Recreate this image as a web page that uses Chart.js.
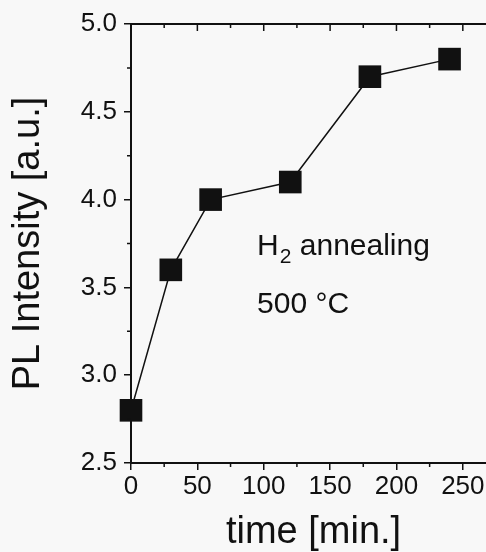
<!DOCTYPE html>
<html>
<head>
<meta charset="utf-8">
<script src="https://cdn.jsdelivr.net/npm/chart.js@4.4.1/dist/chart.umd.min.js"></script>
<style>
  html, body { margin: 0; padding: 0; background: #f8f8f8; overflow: hidden; }
  /* the original plot runs a little past the right edge of the picture */
  #wrap { width: 496px; height: 552px; position: relative; }
</style>
</head>
<body>
<div id="wrap"><canvas id="plChart"></canvas></div>
<script>
// PL intensity vs. H2 annealing time
const times = [0, 30, 60, 120, 180, 240];
const intensity = [2.8, 3.6, 4.0, 4.1, 4.7, 4.8];
const xTicks = [0, 50, 100, 150, 200, 250];
const xMinorTicks = [25, 75, 125, 175, 225];
const yTicks = [2.5, 3.0, 3.5, 4.0, 4.5, 5.0];
const yMinorTicks = [2.75, 3.25, 3.75, 4.25, 4.75];

const INK = "#111";
const FONT = "'Liberation Sans', Arial, Helvetica, sans-serif";

// minor ticks + top frame line with inward ticks
const framePlugin = {
  id: "frame",
  afterDraw(chart) {
    const { ctx, chartArea, scales } = chart;
    const x = scales.x, y = scales.y;
    ctx.save();
    ctx.strokeStyle = INK;
    ctx.lineWidth = 2;
    ctx.beginPath();
    ctx.moveTo(chartArea.left - 1, chartArea.top);
    ctx.lineTo(chartArea.right, chartArea.top);
    ctx.stroke();
    ctx.lineWidth = 1.5;
    ctx.beginPath();
    xTicks.forEach(v => {
      const px = x.getPixelForValue(v);
      ctx.moveTo(px, chartArea.top);
      ctx.lineTo(px, chartArea.top + 7);
    });
    xMinorTicks.forEach(v => {
      const px = x.getPixelForValue(v);
      ctx.moveTo(px, chartArea.top);
      ctx.lineTo(px, chartArea.top + 4);
      ctx.moveTo(px, chartArea.bottom);
      ctx.lineTo(px, chartArea.bottom + 4);
    });
    yMinorTicks.forEach(v => {
      const py = y.getPixelForValue(v);
      ctx.moveTo(chartArea.left, py);
      ctx.lineTo(chartArea.left - 4, py);
    });
    ctx.stroke();
    ctx.restore();
  }
};

// "H2 annealing / 500 °C" label
const notePlugin = {
  id: "note",
  afterDatasetsDraw(chart) {
    const { ctx, scales } = chart;
    const px = scales.x.getPixelForValue(95);
    const py1 = scales.y.getPixelForValue(3.685);
    const py2 = scales.y.getPixelForValue(3.355);
    ctx.save();
    ctx.fillStyle = INK;
    ctx.textBaseline = "alphabetic";
    ctx.textAlign = "left";
    ctx.font = "30px " + FONT;
    ctx.fillText("H", px, py1);
    let cx = px + ctx.measureText("H").width;
    ctx.font = "21px " + FONT;
    ctx.fillText("2", cx + 1, py1 + 8);
    cx += ctx.measureText("2").width + 1;
    ctx.font = "30px " + FONT;
    ctx.fillText(" annealing", cx, py1);
    ctx.fillText("500 \u00B0C", px, py2);
    ctx.restore();
  }
};

const noPad = s => { s.getPadding = () => ({ left: 0, top: 0, right: 0, bottom: 0 }); };

const ctx = document.getElementById("plChart").getContext("2d");
new Chart(ctx, {
  type: "line",
  data: {
    datasets: [{
      data: times.map((t, i) => ({ x: t, y: intensity[i] })),
      borderColor: INK,
      borderWidth: 1.5,
      backgroundColor: INK,
      pointStyle: "rect",
      pointRadius: 16,
      pointHoverRadius: 16,
      pointBorderWidth: 0,
      tension: 0,
      clip: false
    }]
  },
  options: {
    responsive: true,
    maintainAspectRatio: false,
    animation: false,
    layout: { autoPadding: false, padding: { top: 24, right: 0, left: 0, bottom: 0 } },
    plugins: { legend: { display: false }, tooltip: { enabled: false } },
    scales: {
      x: {
        type: "linear",
        min: 0,
        max: 275,
        afterBuildTicks: s => { s.ticks = xTicks.map(v => ({ value: v })); },
        afterFit: s => { s.height = 89; noPad(s); },
        border: { display: true, color: INK, width: 2 },
        grid: { drawOnChartArea: false, drawTicks: true, tickLength: 7, color: INK, lineWidth: 1.5 },
        ticks: { color: INK, font: { family: FONT, size: 26 }, padding: 1, maxRotation: 0, autoSkip: false },
        title: { display: true, text: "time [min.]", color: INK, font: { family: FONT, size: 38, lineHeight: 1.05 }, padding: { top: 0, bottom: 0 } }
      },
      y: {
        min: 2.5,
        max: 5.0,
        afterBuildTicks: s => { s.ticks = yTicks.map(v => ({ value: v })); },
        afterFit: s => { s.width = 131; noPad(s); },
        border: { display: true, color: INK, width: 2 },
        grid: { drawOnChartArea: false, drawTicks: true, tickLength: 7, color: INK, lineWidth: 1.5 },
        ticks: { color: INK, font: { family: FONT, size: 26 }, padding: 7, callback: v => v.toFixed(1) },
        title: { display: true, text: "PL Intensity [a.u.]", color: INK, font: { family: FONT, size: 38 }, padding: { top: 6, bottom: 0 } }
      }
    }
  },
  plugins: [framePlugin, notePlugin]
});
</script>
</body>
</html>
